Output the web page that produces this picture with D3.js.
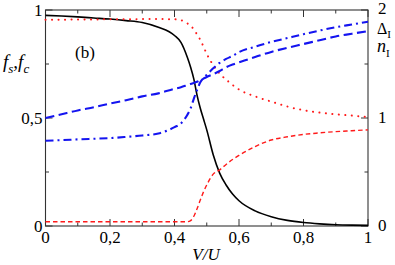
<!DOCTYPE html>
<html>
<head>
<meta charset="utf-8">
<script src="https://cdn.jsdelivr.net/npm/d3@7"></script>
<style>
  body { margin: 0; background: #fff; }
</style>
</head>
<body>
<div id="chart"></div>
<script>
// V/U grid
var vGrid = [0, 0.05, 0.1, 0.15, 0.2, 0.25, 0.3, 0.35, 0.4, 0.42, 0.44, 0.45, 0.46, 0.47, 0.48, 0.49,
             0.5, 0.52, 0.54, 0.56, 0.58, 0.6, 0.65, 0.7, 0.75, 0.8, 0.85, 0.9, 0.95, 1];
// left axis series (0..1)
var blackSolid = [0.975, 0.972, 0.968, 0.963, 0.958, 0.951, 0.942, 0.92, 0.882, 0.85, 0.78, 0.735, 0.68, 0.605, 0.545, 0.495,
                  0.445, 0.33, 0.245, 0.19, 0.148, 0.117, 0.07, 0.043, 0.026, 0.016, 0.01, 0.006, 0.004, 0.003];
var redDotted = [0.955, 0.955, 0.956, 0.956, 0.957, 0.957, 0.958, 0.958, 0.957, 0.953, 0.938, 0.927, 0.91, 0.887, 0.862, 0.83,
                 0.797, 0.745, 0.705, 0.678, 0.653, 0.632, 0.6, 0.576, 0.553, 0.536, 0.525, 0.517, 0.511, 0.505];
var redDashed = [0.02, 0.02, 0.02, 0.02, 0.02, 0.02, 0.02, 0.02, 0.02, 0.02, 0.02, 0.025, 0.045, 0.08, 0.12, 0.158,
                 0.19, 0.24, 0.26, 0.285, 0.308, 0.327, 0.368, 0.398, 0.413, 0.424, 0.431, 0.437, 0.441, 0.445];
// right axis series (0..2)
var blueDashed = [1.0, 1.035, 1.07, 1.1, 1.134, 1.165, 1.2, 1.228, 1.27, 1.285, 1.305, 1.315, 1.325, 1.335, 1.35, 1.365,
                  1.38, 1.405, 1.435, 1.47, 1.495, 1.515, 1.565, 1.612, 1.65, 1.685, 1.72, 1.755, 1.78, 1.805];
var blueDashDot = [0.79, 0.795, 0.802, 0.808, 0.814, 0.825, 0.838, 0.856, 0.915, 0.95, 1.03, 1.09, 1.18, 1.26, 1.33, 1.37,
                   1.4, 1.46, 1.51, 1.547, 1.575, 1.61, 1.66, 1.704, 1.74, 1.776, 1.81, 1.84, 1.866, 1.892];

var xTicks = [0, 0.2, 0.4, 0.6, 0.8, 1];
var xMinor = [0.1, 0.3, 0.5, 0.7, 0.9];
var leftTicks = [0, 0.5, 1];
var leftMinor = [0.25, 0.75];
var rightTicks = [0, 1, 2];
var rightMinor = [0.5, 1.5];

var W = 395, H = 265;
var margin = { top: 10, right: 27, bottom: 39, left: 45.5 };
var width = W - margin.left - margin.right,
    height = H - margin.top - margin.bottom;
var serif = "'Liberation Serif', 'Times New Roman', Times, 'DejaVu Serif', serif";

var svg = d3.select("#chart").append("svg")
    .attr("width", W).attr("height", H)
    .attr("font-family", serif)
    .style("font-family", serif);
var g = svg.append("g")
    .attr("transform", "translate(" + margin.left + "," + margin.top + ")");

var x = d3.scaleLinear().domain([0, 1]).range([0, width]);
var yL = d3.scaleLinear().domain([0, 1]).range([height, 0]);
var yR = d3.scaleLinear().domain([0, 2]).range([height, 0]);

function fmt(d) { return String(d).replace(".", ","); }

var axisCol = "#333";
// frame
g.append("rect").attr("x", 0).attr("y", 0).attr("width", width).attr("height", height)
    .attr("fill", "none").attr("stroke", axisCol).attr("stroke-width", 1.1);

// ticks, pointing inward
var tickG = g.append("g").attr("stroke", axisCol).attr("stroke-width", 1);
xTicks.concat(xMinor).forEach(function (t) {
    var len = xTicks.indexOf(t) >= 0 ? 7 : 3.5;
    tickG.append("line").attr("x1", x(t)).attr("x2", x(t)).attr("y1", height).attr("y2", height - len);
    tickG.append("line").attr("x1", x(t)).attr("x2", x(t)).attr("y1", 0).attr("y2", len);
});
leftTicks.concat(leftMinor).forEach(function (t) {
    var len = leftTicks.indexOf(t) >= 0 ? 7 : 3.5;
    tickG.append("line").attr("x1", 0).attr("x2", len).attr("y1", yL(t)).attr("y2", yL(t));
});
rightTicks.concat(rightMinor).forEach(function (t) {
    var len = rightTicks.indexOf(t) >= 0 ? 7 : 3.5;
    tickG.append("line").attr("x1", width).attr("x2", width - len).attr("y1", yR(t)).attr("y2", yR(t));
});

// tick labels
g.selectAll(".xl").data(xTicks).enter().append("text")
    .attr("x", function (d) { return x(d); }).attr("y", height + 17)
    .attr("text-anchor", "middle").attr("font-size", 17).text(fmt);
g.selectAll(".yl").data(leftTicks).enter().append("text")
    .attr("x", -3).attr("y", function (d) { return yL(d) + 6; })
    .attr("text-anchor", "end").attr("font-size", 17).text(fmt);
g.selectAll(".yr").data(rightTicks).enter().append("text")
    .attr("x", width + 10).attr("y", function (d) { return yR(d) + (d === 2 ? 4 : 5); })
    .attr("text-anchor", "start").attr("font-size", 17).text(fmt);

// curves
var line = function (ys, yScale) {
    return d3.line()
        .x(function (d, i) { return x(vGrid[i]); })
        .y(function (d) { return yScale(d); })
        .curve(d3.curveMonotoneX)(ys);
};
var series = [
    { data: blackSolid, scale: yL, color: "#000", w: 1.6, dash: null, cap: "butt" },
    { data: redDotted, scale: yL, color: "#ff1a1a", w: 2, dash: "0.1,6.4", cap: "round" },
    { data: redDashed, scale: yL, color: "#ff1a1a", w: 1.4, dash: "4.5,3", cap: "butt" },
    { data: blueDashed, scale: yR, color: "#1414f0", w: 2.1, dash: "9,4.5", cap: "butt" },
    { data: blueDashDot, scale: yR, color: "#1414f0", w: 2.1, dash: "8,4,2,4", cap: "butt" }
];
series.forEach(function (s) {
    g.append("path").attr("d", line(s.data, s.scale))
        .attr("fill", "none").attr("stroke", s.color).attr("stroke-width", s.w)
        .attr("stroke-dasharray", s.dash).attr("stroke-linecap", s.cap);
});

// labels
var fl = svg.append("text").attr("x", 3).attr("y", 68).attr("font-size", 19).attr("font-style", "italic");
fl.append("tspan").text("f");
fl.append("tspan").attr("dy", 5).attr("font-size", 13).text("s");
fl.append("tspan").attr("dy", -5).text(",f");
fl.append("tspan").attr("dy", 5).attr("font-size", 13).text("c");

svg.append("text").attr("x", 75).attr("y", 58).attr("font-size", 17).text("(b)");

var dl = svg.append("text").attr("x", 377).attr("y", 34).attr("font-size", 16);
dl.append("tspan").text("Δ");
dl.append("tspan").attr("dy", 4).attr("font-size", 11).text("I");
var nl = svg.append("text").attr("x", 377).attr("y", 52).attr("font-size", 18).attr("font-style", "italic");
nl.append("tspan").text("n");
nl.append("tspan").attr("dy", 5).attr("font-size", 11).attr("font-style", "normal").text("I");

svg.append("text").attr("x", 206).attr("y", 260).attr("text-anchor", "middle")
    .attr("font-size", 17).attr("font-style", "italic").text("V/U");
</script>
</body>
</html>
